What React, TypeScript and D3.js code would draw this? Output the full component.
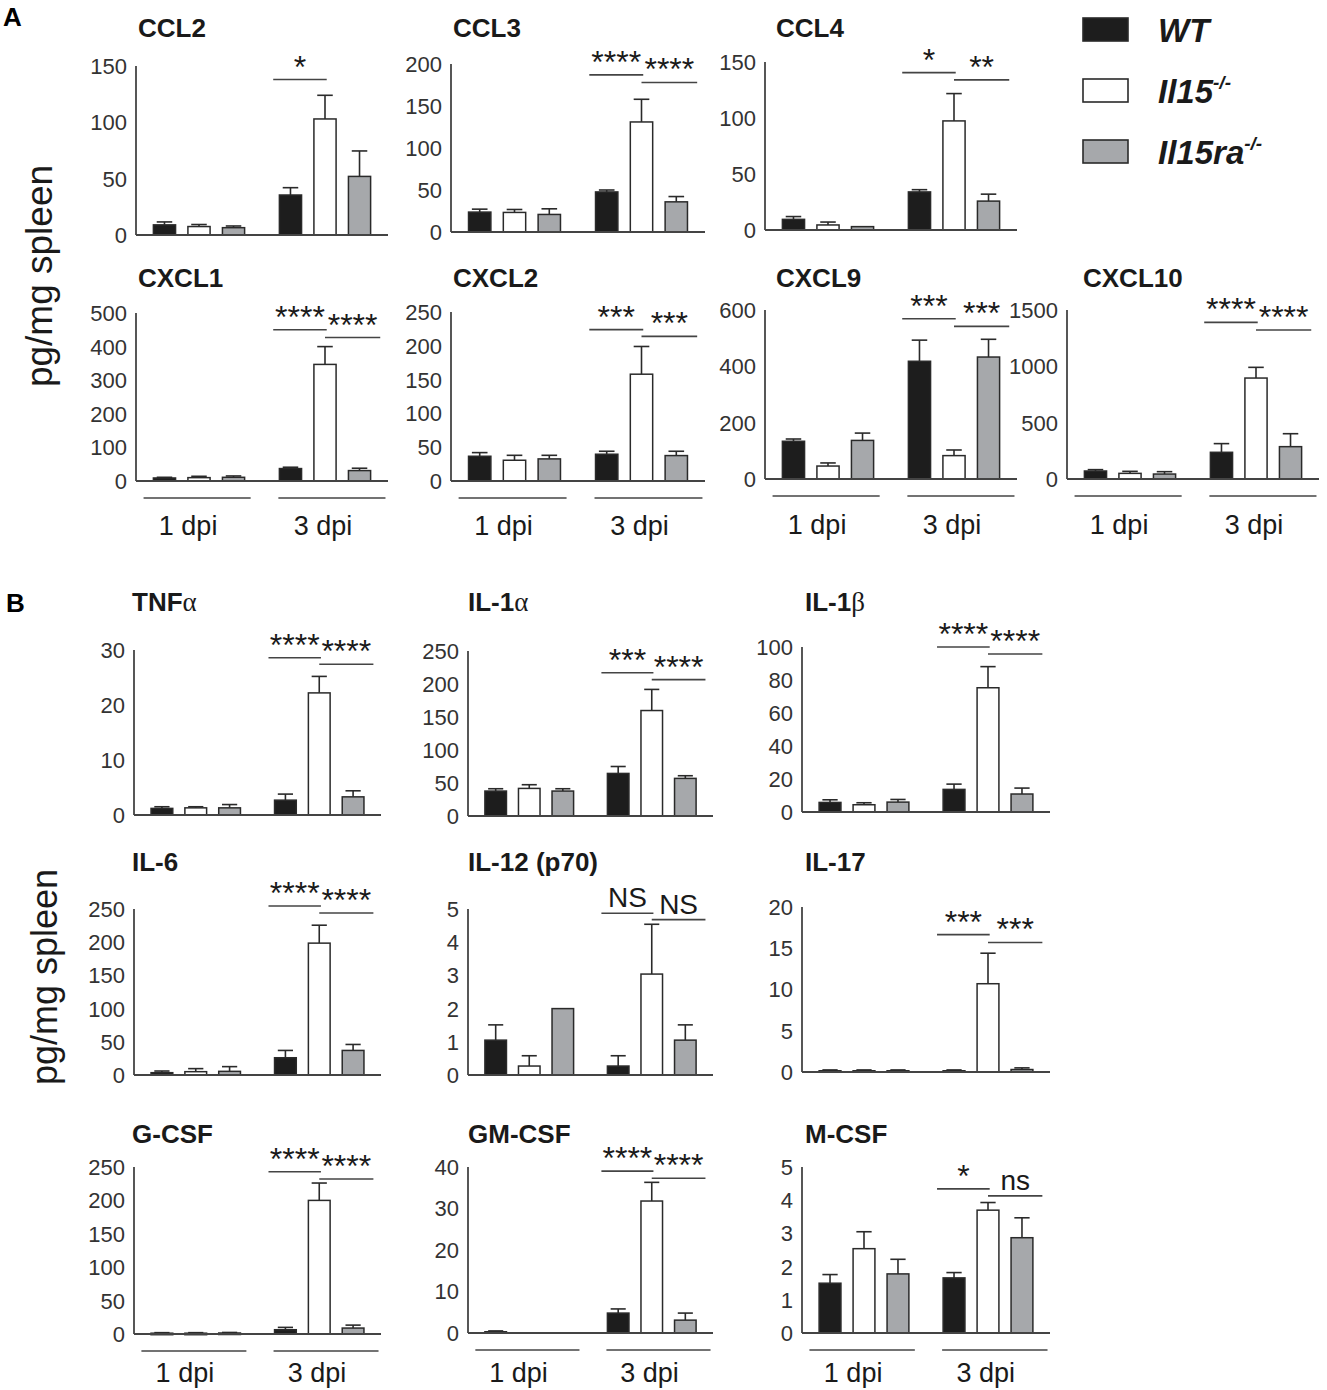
import * as d3 from "d3"

const genotypes = ["WT", "Il15-/-", "Il15ra-/-"]
const timepoints = ["1 dpi", "3 dpi"]

// values in order: 1 dpi WT, Il15, Il15ra, 3 dpi WT, Il15, Il15ra
const meanCCL2 = [9, 7.5, 6.5, 35.5, 103, 52]
const semCCL2 = [2.6, 1.8, 1.5, 6.5, 21, 22.6]
const meanCCL3 = [23.7, 23.3, 20.9, 47.7, 131, 35.9]
const semCCL3 = [3.5, 3.5, 6.7, 2.3, 27, 6.3]
const meanCCL4 = [9.5, 4.5, 3, 34, 97.4, 25.8]
const semCCL4 = [2.5, 2.6, 0, 2, 24.4, 6.2]
const meanCXCL1 = [9, 10, 11, 37, 347, 31]
const semCXCL1 = [2, 4, 4, 4, 53, 7]
const meanCXCL2 = [36.6, 30.7, 32.7, 39.6, 158, 37.6]
const semCXCL2 = [5.4, 7.3, 5.3, 4.4, 41, 6.4]
const meanCXCL9 = [134, 46, 137, 418, 83, 433]
const semCXCL9 = [8, 11, 26, 75, 20, 63]
const meanCXCL10 = [71, 50, 44, 237, 896, 287]
const semCXCL10 = [12, 18, 21, 77, 95, 115]

const meanTNF = [1.2, 1.3, 1.3, 2.7, 22.2, 3.3]
const semTNF = [0.3, 0.2, 0.6, 1.1, 3.0, 1.1]
const meanIL1a = [37.8, 41.8, 37.8, 64.5, 159.8, 57]
const semIL1a = [3.5, 5.6, 3.5, 10.5, 32, 4]
const meanIL1b = [5.8, 4.4, 6, 13.7, 75.3, 10.9]
const semIL1b = [1.6, 1.2, 1.6, 3.2, 12.8, 3.6]
const meanIL6 = [3.5, 5, 5.5, 26, 198.6, 37]
const semIL6 = [2.5, 4.6, 7.1, 11, 27, 9]
const meanIL12 = [1.05, 0.27, 2.0, 0.27, 3.04, 1.05]
const semIL12 = [0.46, 0.31, 0, 0.31, 1.5, 0.46]
const meanIL17 = [0.15, 0.15, 0.15, 0.15, 10.7, 0.3]
const semIL17 = [0.1, 0.1, 0.1, 0.1, 3.7, 0.2]
const meanGCSF = [1.2, 1.2, 1.5, 6.4, 200, 8.9]
const semGCSF = [0.8, 0.8, 0.8, 3.5, 26, 4.4]
const meanGMCSF = [0.3, 0, 0, 4.8, 31.8, 3.1]
const semGMCSF = [0.2, 0, 0, 1.0, 4.5, 1.7]
const meanMCSF = [1.5, 2.54, 1.78, 1.66, 3.7, 2.87]
const semMCSF = [0.26, 0.51, 0.44, 0.16, 0.23, 0.6]

// tick labels
const ticks150 = [0, 50, 100, 150]
const ticks200 = [0, 50, 100, 150, 200]
const ticks250 = [0, 50, 100, 150, 200, 250]
const ticks500 = [0, 100, 200, 300, 400, 500]
const ticks600 = [0, 200, 400, 600]
const ticks1500 = [0, 500, 1000, 1500]
const ticks30 = [0, 10, 20, 30]
const ticks100 = [0, 20, 40, 60, 80, 100]
const ticks5 = [0, 1, 2, 3, 4, 5]
const ticks20 = [0, 5, 10, 15, 20]
const ticks40 = [0, 10, 20, 30, 40]

// significance labels (WT vs Il15, Il15 vs Il15ra at 3 dpi) and the level of each bracket
const sigCCL2 = ["*"], sigAtCCL2 = [138]
const sigCCL3 = ["****", "****"], sigAtCCL3 = [187, 178]
const sigCCL4 = ["*", "**"], sigAtCCL4 = [140.5, 134]
const sigCXCL1 = ["****", "****"], sigAtCXCL1 = [450, 427]
const sigCXCL2 = ["***", "***"], sigAtCXCL2 = [224, 214]
const sigCXCL9 = ["***", "***"], sigAtCXCL9 = [569, 542]
const sigCXCL10 = ["****", "****"], sigAtCXCL10 = [1390, 1322]
const sigTNF = ["****", "****"], sigAtTNF = [28.6, 27.4]
const sigIL1a = ["***", "****"], sigAtIL1a = [217, 206.6]
const sigIL1b = ["****", "****"], sigAtIL1b = [100, 95.8]
const sigIL6 = ["****", "****"], sigAtIL6 = [254.5, 244]
const sigIL12 = ["NS", "NS"], sigAtIL12 = [4.87, 4.68]
const sigIL17 = ["***", "***"], sigAtIL17 = [16.65, 15.7]
const sigGCSF = ["****", "****"], sigAtGCSF = [243, 232]
const sigGMCSF = ["****", "****"], sigAtGMCSF = [39, 37.3]
const sigMCSF = ["*", "ns"], sigAtMCSF = [4.34, 4.13]

const FONT = "'Liberation Sans', Arial, Helvetica, sans-serif"
const INK = "#2a2a2a"
const fills = ["#1d1d1d", "#ffffff", "#a6a8ab"]

// box: [axis left, axis width, y of top tick, y of zero]; tpos: title [x, baseline]; lab: dpi label offset below zero
const panels = [
  { title: ["CCL2"], mean: meanCCL2, sem: semCCL2, ticks: ticks150, sig: sigCCL2, sigAt: sigAtCCL2, box: [136, 252, 66, 235], tpos: [138, 37], lab: 0 },
  { title: ["CCL3"], mean: meanCCL3, sem: semCCL3, ticks: ticks200, sig: sigCCL3, sigAt: sigAtCCL3, box: [451, 254, 64, 232], tpos: [453, 37], lab: 0 },
  { title: ["CCL4"], mean: meanCCL4, sem: semCCL4, ticks: ticks150, sig: sigCCL4, sigAt: sigAtCCL4, box: [765, 252, 62, 230], tpos: [776, 37], lab: 0 },
  { title: ["CXCL1"], mean: meanCXCL1, sem: semCXCL1, ticks: ticks500, sig: sigCXCL1, sigAt: sigAtCXCL1, box: [136, 252, 313, 481], tpos: [138, 287], lab: 54 },
  { title: ["CXCL2"], mean: meanCXCL2, sem: semCXCL2, ticks: ticks250, sig: sigCXCL2, sigAt: sigAtCXCL2, box: [451, 254, 312, 481], tpos: [453, 287], lab: 54 },
  { title: ["CXCL9"], mean: meanCXCL9, sem: semCXCL9, ticks: ticks600, sig: sigCXCL9, sigAt: sigAtCXCL9, box: [765, 252, 310, 479], tpos: [776, 287], lab: 55 },
  { title: ["CXCL10"], mean: meanCXCL10, sem: semCXCL10, ticks: ticks1500, sig: sigCXCL10, sigAt: sigAtCXCL10, box: [1067, 252, 310, 479], tpos: [1083, 287], lab: 55 },
  { title: ["TNF", "α"], mean: meanTNF, sem: semTNF, ticks: ticks30, sig: sigTNF, sigAt: sigAtTNF, box: [134, 247, 650, 815], tpos: [132, 611], lab: 0 },
  { title: ["IL-1", "α"], mean: meanIL1a, sem: semIL1a, ticks: ticks250, sig: sigIL1a, sigAt: sigAtIL1a, box: [468, 245, 651, 816], tpos: [468, 611], lab: 0 },
  { title: ["IL-1", "β"], mean: meanIL1b, sem: semIL1b, ticks: ticks100, sig: sigIL1b, sigAt: sigAtIL1b, box: [802, 248, 647, 812], tpos: [805, 611], lab: 0 },
  { title: ["IL-6"], mean: meanIL6, sem: semIL6, ticks: ticks250, sig: sigIL6, sigAt: sigAtIL6, box: [134, 247, 909, 1075], tpos: [132, 871], lab: 0 },
  { title: ["IL-12 (p70)"], mean: meanIL12, sem: semIL12, ticks: ticks5, sig: sigIL12, sigAt: sigAtIL12, box: [468, 245, 909, 1075], tpos: [468, 871], lab: 0 },
  { title: ["IL-17"], mean: meanIL17, sem: semIL17, ticks: ticks20, sig: sigIL17, sigAt: sigAtIL17, box: [802, 248, 907, 1072], tpos: [805, 871], lab: 0 },
  { title: ["G-CSF"], mean: meanGCSF, sem: semGCSF, ticks: ticks250, sig: sigGCSF, sigAt: sigAtGCSF, box: [134, 247, 1167, 1334], tpos: [132, 1143], lab: 48 },
  { title: ["GM-CSF"], mean: meanGMCSF, sem: semGMCSF, ticks: ticks40, sig: sigGMCSF, sigAt: sigAtGMCSF, box: [468, 245, 1167, 1333], tpos: [468, 1143], lab: 49 },
  { title: ["M-CSF"], mean: meanMCSF, sem: semMCSF, ticks: ticks5, sig: sigMCSF, sigAt: sigAtMCSF, box: [802, 248, 1167, 1333], tpos: [805, 1143], lab: 49 },
]

function Panel({ p }: { p: any }) {
  const [x0, w, yTop, yZero] = p.box
  const y = d3.scaleLinear().domain([0, p.ticks[p.ticks.length - 1]]).range([yZero, yTop])
  const gx = d3.scalePoint().domain(timepoints).range([x0, x0 + w]).padding(0.5)
  const sp = 0.137 * w
  const bw = 0.088 * w
  const inner = d3.scalePoint().domain(genotypes).range([-sp, sp])

  const bars = p.mean.map((m: number, i: number) => {
    const t = timepoints[Math.floor(i / 3)]
    const g = genotypes[i % 3]
    return { cx: (gx(t) as number) + (inner(g) as number), m, e: p.sem[i], k: i % 3 }
  })
  const c = bars.slice(3).map((b: any) => b.cx)
  const brackets = [
    [c[0] - 0.5 * sp, c[1] + 0.05 * sp],
    [c[1], c[2] + 0.6 * sp],
  ]

  return (
    <g>
      <text x={p.tpos[0]} y={p.tpos[1]} fontSize={26} fontWeight="bold" fill="#1a1a1a">
        {p.title[0]}
        {p.title[1] && (
          <tspan fontWeight="normal" fontFamily="'Liberation Serif', 'DejaVu Serif', serif" fontSize={27}>
            {p.title[1]}
          </tspan>
        )}
      </text>

      {p.ticks.map((t: number) => (
        <text key={t} x={x0 - 9} y={y(t)} dy="0.36em" textAnchor="end" fontSize={22} fill="#333">
          {t}
        </text>
      ))}

      {bars.map((b: any, i: number) =>
        b.m > 0 ? (
          <g key={i}>
            {b.e > 0 && (
              <g stroke={INK} strokeWidth={1.6}>
                <line x1={b.cx} x2={b.cx} y1={y(b.m)} y2={y(b.m + b.e)} />
                <line x1={b.cx - bw * 0.35} x2={b.cx + bw * 0.35} y1={y(b.m + b.e)} y2={y(b.m + b.e)} />
              </g>
            )}
            <rect
              x={b.cx - bw / 2}
              y={y(b.m)}
              width={bw}
              height={Math.max(1.5, yZero - y(b.m))}
              fill={fills[b.k]}
              stroke={INK}
              strokeWidth={1.5}
            />
          </g>
        ) : null
      )}

      <line x1={x0} x2={x0} y1={yZero} y2={yTop} stroke="#444" strokeWidth={1.8} />
      <line x1={x0} x2={x0 + w} y1={yZero} y2={yZero} stroke="#444" strokeWidth={1.8} />

      {p.sig.map((s: string, i: number) => {
        const [a, b] = brackets[i]
        const ly = y(p.sigAt[i])
        const star = s.startsWith("*")
        return (
          <g key={i}>
            <line x1={a} x2={b} y1={ly} y2={ly} stroke="#444" strokeWidth={1.6} />
            <text
              x={(a + b) / 2}
              y={star ? ly - 2 : ly - 6}
              textAnchor="middle"
              fontSize={star ? 32 : 28}
              fill="#1a1a1a"
            >
              {s}
            </text>
          </g>
        )
      })}

      {p.lab > 0 &&
        timepoints.map((t, i) => {
          const a = x0 + (i === 0 ? 0.03 : 0.565) * w
          const b = x0 + (i === 0 ? 0.455 : 0.99) * w
          return (
            <g key={t}>
              <line x1={a} x2={b} y1={yZero + 17} y2={yZero + 17} stroke="#444" strokeWidth={1.6} />
              <text x={(a + b) / 2 - 9} y={yZero + p.lab} textAnchor="middle" fontSize={27} fill="#1a1a1a">
                {t}
              </text>
            </g>
          )
        })}
    </g>
  )
}

function Legend() {
  const rows = [
    { y: 18, base: 42 },
    { y: 79, base: 103 },
    { y: 140, base: 164 },
  ]
  return (
    <g>
      {genotypes.map((g, i) => (
        <g key={g}>
          <rect x={1083} y={rows[i].y} width={45} height={23} fill={fills[i]} stroke={INK} strokeWidth={1.6} />
          <text x={1158} y={rows[i].base} fontSize={33} fontWeight="bold" fontStyle="italic" fill="#1a1a1a">
            {g.replace("-/-", "")}
            {g.includes("-/-") && (
              <tspan fontSize={19} dy={-14}>
                -/-
              </tspan>
            )}
          </text>
        </g>
      ))}
    </g>
  )
}

export default function App() {
  return (
    <svg
      width={1327}
      height={1390}
      viewBox="0 0 1327 1390"
      style={{ position: "absolute", left: 0, top: 0, background: "#fff" }}
      fontFamily={FONT}
    >
      <rect width={1327} height={1390} fill="#fff" />
      <text x={3} y={26} fontSize={26} fontWeight="bold">A</text>
      <text x={6} y={612} fontSize={26} fontWeight="bold">B</text>

      <text transform="translate(52,276) rotate(-90)" textAnchor="middle" fontSize={37} fill="#1a1a1a">
        pg/mg spleen
      </text>
      <text transform="translate(57,977) rotate(-90)" textAnchor="middle" fontSize={36} fill="#1a1a1a">
        pg/mg spleen
      </text>

      {panels.map((p) => (
        <Panel key={p.title.join("")} p={p} />
      ))}
      <Legend />
    </svg>
  )
}
